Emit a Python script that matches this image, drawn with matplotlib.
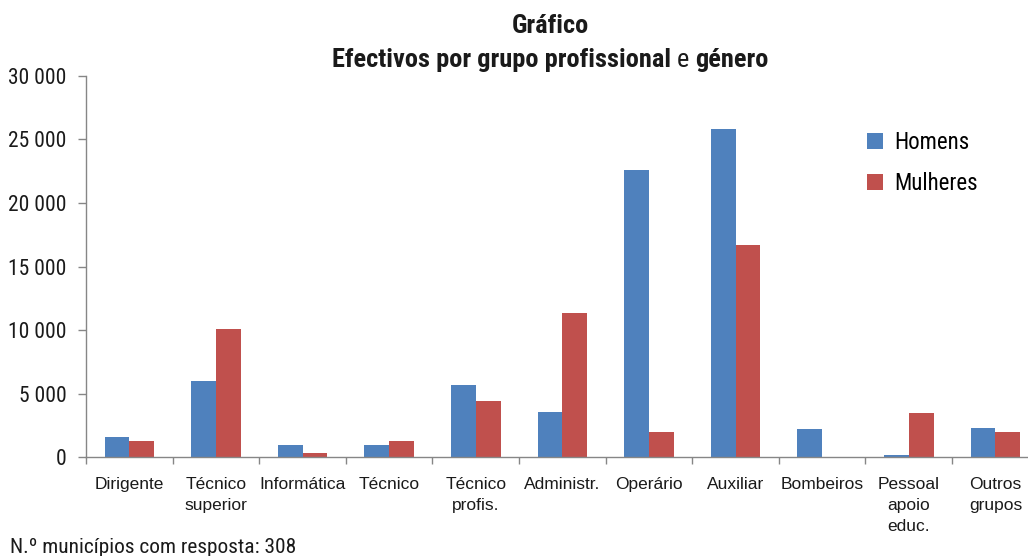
import numpy as np
import matplotlib
matplotlib.use('Agg')
import matplotlib.pyplot as plt

# ── data ───────────────────────────────────────────────────────────────────
categories = ["Dirigente", "Técnico\nsuperior", "Informática", "Técnico",
              "Técnico\nprofis.", "Administr.", "Operário", "Auxiliar",
              "Bombeiros", "Pessoal\napoio\neduc.", "Outros\ngrupos"]
homens   = [1600, 6000, 950, 950, 5700, 3550, 22550, 25850, 2230, 180, 2300]
mulheres = [1300, 10100, 330, 1300, 4430, 11350, 1990, 16720, 0, 3490, 1990]
series_labels = ["Homens", "Mulheres"]
yticks = [0, 5000, 10000, 15000, 20000, 25000, 30000]

BLUE = "#4F81BD"
RED  = "#C0504D"
INK  = "#1a1a1a"
NARROW = ['Roboto Condensed', 'DejaVu Sans']
PLAIN  = ['Liberation Sans', 'DejaVu Sans']

fig = plt.figure(figsize=(10.28, 5.56), dpi=100)
ax = fig.add_axes([0.0837, 0.1775, 0.9267, 0.6863])

x = np.arange(len(categories))
w = 0.286
ax.bar(x - w / 2, homens, w, color=BLUE, label=series_labels[0])
ax.bar(x + w / 2, mulheres, w, color=RED, label=series_labels[1])

ax.set_xlim(-0.5, len(categories) - 0.5)
ax.set_ylim(0, 30000)

# y axis
ax.set_yticks(yticks)
ax.set_yticklabels([f"{v:,}".replace(",", " ") for v in yticks],
                   fontfamily=NARROW, fontsize=15.5, color=INK)
ax.tick_params(axis='y', length=6, width=1, color="#868686", pad=8)

# x axis: boundary ticks, labels centred on each group
ax.set_xticks(np.arange(-0.5, len(categories)), labels=[""] * (len(categories) + 1))
ax.tick_params(axis='x', which='major', length=5, width=1, color="#868686", direction='out')
ax.set_xticks(x, labels=categories, minor=True)
ax.tick_params(axis='x', which='minor', length=0, pad=14)
for lab in ax.get_xticklabels(minor=True):
    lab.set_fontfamily(PLAIN)
    lab.set_fontsize(12.5)
    lab.set_linespacing(1.5)
    lab.set_color(INK)
    lab.set_verticalalignment('top')

for side in ("top", "right"):
    ax.spines[side].set_visible(False)
for side in ("left", "bottom"):
    ax.spines[side].set_color("#868686")
    ax.spines[side].set_linewidth(1)

# title; the "e" on the second line is in regular weight
TSIZE = 19
fig.text(550 / 1028, 1 - 33 / 556, "Gráfico", ha='center', va='baseline',
         fontfamily=NARROW, fontsize=TSIZE, fontweight='bold', color=INK)
parts = [("Efectivos por grupo profissional ", 'bold'), ("e ", 'normal'), ("género", 'bold')]
renderer = fig.canvas.get_renderer()
pieces, widths = [], []
for s, wt in parts:
    t = fig.text(0, 1 - 67 / 556, s, ha='left', va='baseline', fontfamily=NARROW,
                 fontsize=TSIZE, fontweight=wt, color=INK)
    # measure with trailing spaces kept
    bb = t.get_window_extent(renderer)
    pieces.append(t)
    widths.append(bb.width)
total = sum(widths)
cur = 550 - total / 2
for t, wd in zip(pieces, widths):
    t.set_x(cur / 1028)
    cur += wd

# legend
leg = ax.legend(loc='upper left', bbox_to_anchor=(0.798, 0.91), frameon=False,
                prop={'family': NARROW, 'size': 16.5}, handlelength=0.7,
                handleheight=0.7, handletextpad=0.5, labelspacing=0.8)

# footnote
fig.text(10 / 1028, 3 / 556, "N.º municípios com resposta: 308", ha='left',
         va='baseline', fontfamily=NARROW, fontsize=15.4, color=INK)

fig.savefig("out.png", dpi=100)
